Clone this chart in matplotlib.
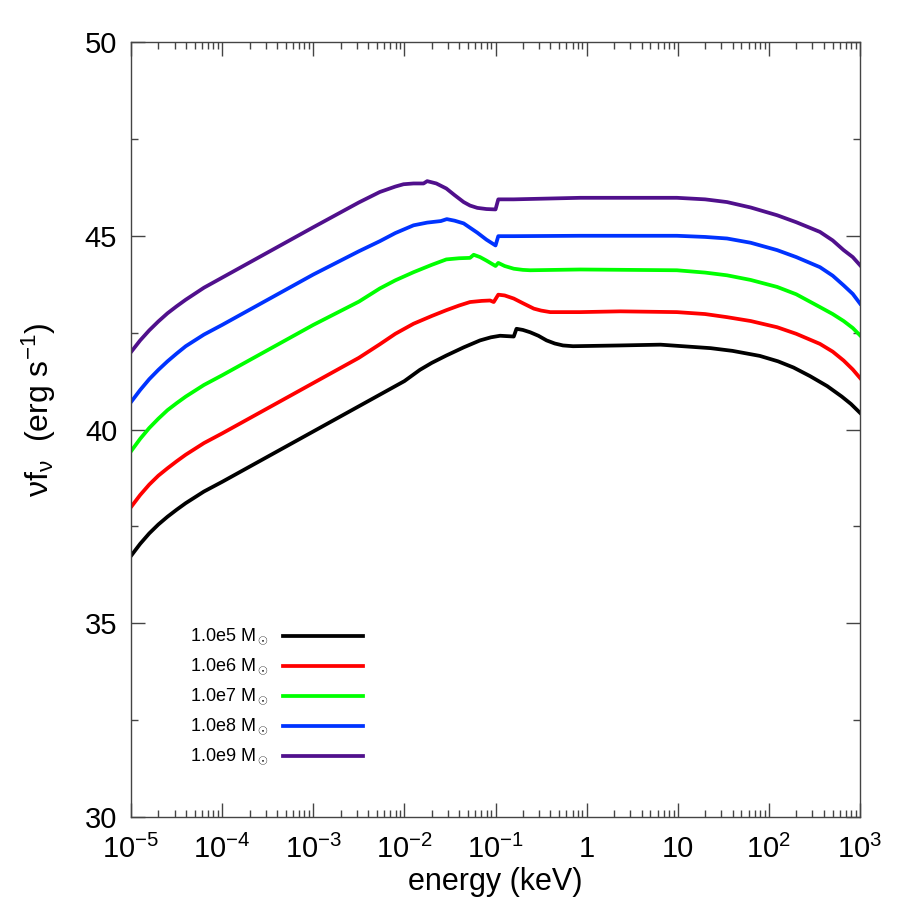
import numpy as np
import matplotlib
matplotlib.use("Agg")
import matplotlib.pyplot as plt
from matplotlib.ticker import FixedLocator, FixedFormatter, MultipleLocator, LogLocator, NullFormatter

plt.rcParams['font.family'] = ['Liberation Sans', 'DejaVu Sans']
plt.rcParams['mathtext.fontset'] = 'custom'
plt.rcParams['mathtext.rm'] = 'Liberation Sans'
plt.rcParams['mathtext.it'] = 'Liberation Sans'
plt.rcParams['mathtext.sf'] = 'Liberation Sans'

# log10(energy / keV) and log nuf_nu for each black hole mass
logE_left = [-5, -4.9, -4.8, -4.7, -4.6, -4.5, -4.4, -4.2, -4.0, -3.5, -3.0, -2.5]

logE_1e5 = logE_left + [-2.0, -1.83, -1.7, -1.54, -1.35, -1.17, -1.05, -0.95, -0.80, -0.77,
                        -0.7, -0.62, -0.53, -0.44, -0.35, -0.26, -0.15, 0.37, 0.81, 1.36,
                        1.6, 1.9, 2.1, 2.27, 2.45, 2.64, 2.8, 2.9, 3.0]
lum_1e5 = [36.74, 37.05, 37.32, 37.55, 37.75, 37.93, 38.1, 38.4, 38.65, 39.3, 39.95, 40.6,
           41.25, 41.54, 41.72, 41.91, 42.12, 42.30, 42.38, 42.42, 42.40, 42.60,
           42.57, 42.51, 42.42, 42.30, 42.22, 42.17, 42.15, 42.17, 42.19, 42.10,
           42.03, 41.90, 41.76, 41.60, 41.38, 41.12, 40.85, 40.66, 40.43]

logE_1e6 = logE_left + [-2.27, -2.1, -1.9, -1.7, -1.54, -1.4, -1.28, -1.15, -1.06, -1.02,
                        -0.97, -0.9, -0.8, -0.7, -0.58, -0.5, -0.4, -0.07, 0.37, 0.99,
                        1.3, 1.54, 1.8, 2.09, 2.3, 2.56, 2.7, 2.82, 2.92, 3.0]
lum_1e6 = [38.0, 38.31, 38.58, 38.81, 39.0, 39.18, 39.35, 39.65, 39.9, 40.55, 41.2, 41.85,
           42.2, 42.47, 42.73, 42.93, 43.08, 43.2, 43.29, 43.32, 43.33, 43.29,
           43.48, 43.46, 43.38, 43.26, 43.12, 43.07, 43.03, 43.03, 43.05, 43.03,
           42.98, 42.90, 42.80, 42.64, 42.47, 42.21, 42.01, 41.78, 41.55, 41.33]

logE_1e7 = logE_left + [-2.27, -2.1, -1.9, -1.7, -1.54, -1.4, -1.28, -1.24, -1.17, -1.1,
                        -1.0, -0.97, -0.9, -0.8, -0.7, -0.62, -0.07, 0.99, 1.3, 1.54,
                        1.8, 2.09, 2.3, 2.56, 2.7, 2.82, 2.92, 3.0]
lum_1e7 = [39.44, 39.76, 40.04, 40.28, 40.5, 40.68, 40.85, 41.15, 41.4, 42.05, 42.7, 43.3,
           43.64, 43.85, 44.06, 44.25, 44.39, 44.42, 44.43, 44.51, 44.45, 44.36,
           44.22, 44.30, 44.22, 44.15, 44.12, 44.11, 44.13, 44.11, 44.05, 43.98,
           43.86, 43.68, 43.49, 43.16, 42.98, 42.80, 42.62, 42.43]

logE_1e8 = logE_left + [-2.27, -2.1, -1.9, -1.75, -1.6, -1.535, -1.45, -1.35, -1.2, -1.1,
                        -1.0, -0.97, -0.80, -0.07, 0.99, 1.3, 1.54, 1.8, 2.09, 2.3,
                        2.56, 2.7, 2.82, 2.92, 3.0]
lum_1e8 = [40.71, 41.02, 41.3, 41.54, 41.76, 41.96, 42.15, 42.45, 42.7, 43.35, 44.0, 44.6,
           44.86, 45.07, 45.27, 45.34, 45.38, 45.43, 45.39, 45.32, 45.08, 44.9,
           44.75, 44.99, 44.99, 45.0, 45.0, 44.97, 44.93, 44.82, 44.63, 44.45,
           44.19, 43.97, 43.72, 43.5, 43.25]

logE_1e9 = logE_left + [-2.27, -2.1, -2.01, -1.9, -1.79, -1.75, -1.65, -1.54, -1.45, -1.35,
                        -1.28, -1.2, -1.1, -1.0, -0.97, -0.80, -0.07, 0.99, 1.3, 1.54,
                        1.8, 2.09, 2.3, 2.56, 2.7, 2.82, 2.92, 3.0]
lum_1e9 = [42.0, 42.3, 42.56, 42.79, 43.0, 43.18, 43.35, 43.66, 43.92, 44.57, 45.22, 45.86,
           46.13, 46.27, 46.33, 46.35, 46.35, 46.41, 46.35, 46.22, 46.05, 45.87,
           45.78, 45.72, 45.69, 45.68, 45.94, 45.94, 45.98, 45.98, 45.94, 45.87,
           45.73, 45.53, 45.35, 45.10, 44.88, 44.63, 44.45, 44.24]

labels = [r'1.0e5 M$_\odot$', r'1.0e6 M$_\odot$', r'1.0e7 M$_\odot$',
          r'1.0e8 M$_\odot$', r'1.0e9 M$_\odot$']
colors = ['black', '#ff0000', '#00ff00', '#0033ff', '#50108c']
logEs = [logE_1e5, logE_1e6, logE_1e7, logE_1e8, logE_1e9]
lums = [lum_1e5, lum_1e6, lum_1e7, lum_1e8, lum_1e9]

xtick_vals = [1e-5, 1e-4, 1e-3, 1e-2, 1e-1, 1, 10, 100, 1000]
xtick_labels = [r'10$^{-5}$', r'10$^{-4}$', r'10$^{-3}$', r'10$^{-2}$', r'10$^{-1}$',
                '1', '10', r'10$^{2}$', r'10$^{3}$']

fig = plt.figure(figsize=(9, 9), dpi=100)
ax = fig.add_axes([0.1456, 0.0922, 0.81, 0.8611])

for le, lu, c in zip(logEs, lums, colors):
    ax.plot(10 ** np.array(le), lu, color=c, lw=2.7, solid_joinstyle='round')

ax.set_xscale('log')
ax.set_xlim(1e-5, 1e3)
ax.set_ylim(30, 50)

ax.xaxis.set_major_locator(FixedLocator(xtick_vals))
ax.xaxis.set_major_formatter(FixedFormatter(xtick_labels))
ax.xaxis.set_minor_locator(LogLocator(base=10, subs=np.arange(2, 10), numticks=20))
ax.xaxis.set_minor_formatter(NullFormatter())
ax.yaxis.set_major_locator(MultipleLocator(5))
ax.yaxis.set_minor_locator(MultipleLocator(2.5))

ax.tick_params(which='both', direction='in', top=True, right=True, color='#444444', width=1)
ax.tick_params(which='major', length=10, labelsize=21)
ax.tick_params(which='minor', length=5)
ax.tick_params(axis='x', which='major', pad=13)
ax.tick_params(axis='y', which='major', pad=10)
for s in ax.spines.values():
    s.set_color('#444444')
    s.set_linewidth(1)

ax.set_xlabel('energy (keV)', fontsize=22, labelpad=2)
ax.set_ylabel(r'$\nu$f$_\nu$  (erg s$^{-1}$)', fontsize=23)
ax.yaxis.set_label_coords(-0.1, 0.525)

# legend drawn by hand: text on the left, line on the right
for i, (lab, c) in enumerate(zip(labels, colors)):
    yy = 0.2335 - i * 0.0387
    ax.text(0.081, yy, lab, transform=ax.transAxes, fontsize=13, va='center', ha='left')
    ax.plot([0.209, 0.318], [yy, yy], transform=ax.transAxes, color=c, lw=2.7)

fig.savefig('out.png', dpi=100)
